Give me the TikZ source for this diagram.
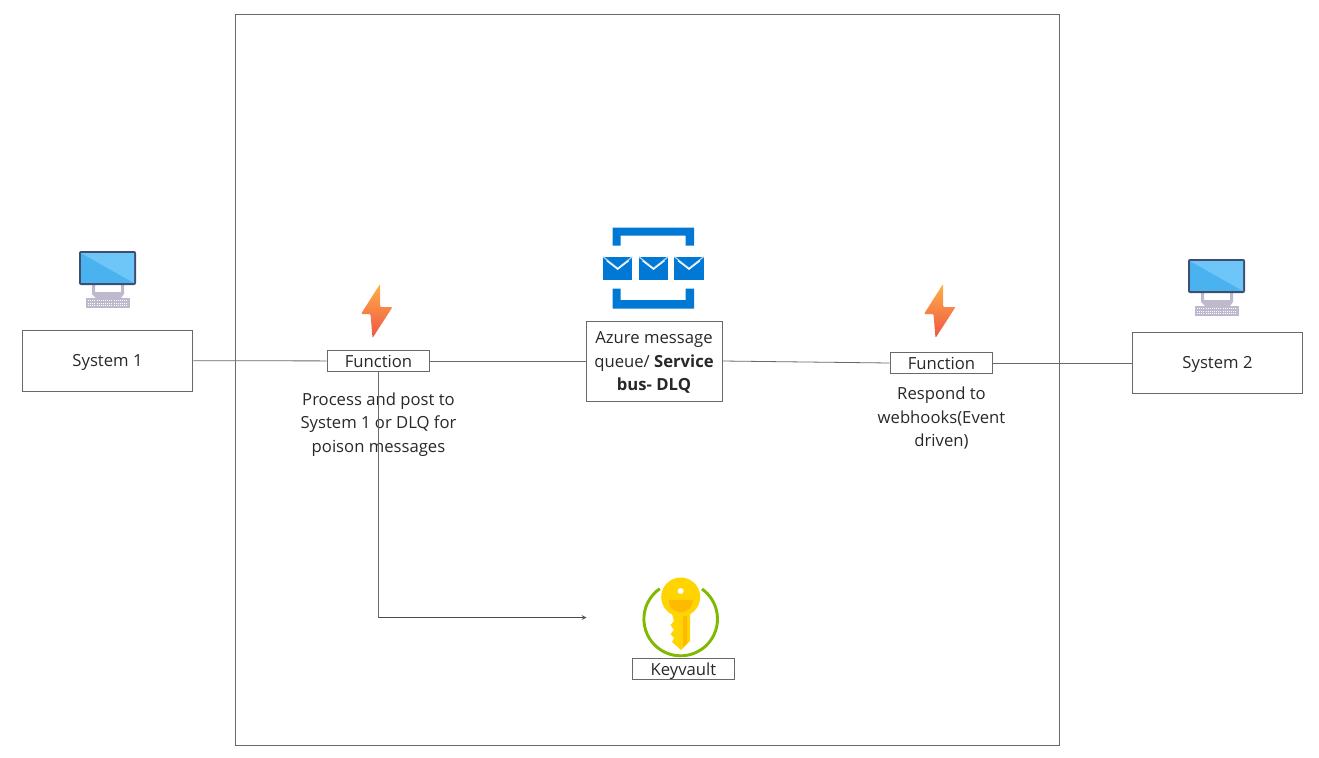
\documentclass[tikz,border=0pt]{standalone}
\usepackage{fontspec}
\setmainfont{Open Sans}
\usepackage{xcolor}
\definecolor{lineGray}{RGB}{105, 105, 105}
\definecolor{textDark}{RGB}{40, 40, 40}
\definecolor{azureBlue}{RGB}{0, 120, 212}
\definecolor{flapBlue}{RGB}{170, 215, 245}
\definecolor{screenDark}{RGB}{62, 78, 112}
\definecolor{screenBlue}{RGB}{75, 178, 240}
\definecolor{screenLight}{RGB}{110, 198, 248}
\definecolor{standGray}{RGB}{190, 185, 205}
\definecolor{boltTop}{RGB}{255, 175, 70}
\definecolor{boltBottom}{RGB}{238, 85, 70}
\definecolor{ringGreen}{RGB}{127, 186, 0}
\definecolor{keyYellow}{RGB}{255, 212, 0}
\definecolor{keyOrange}{RGB}{255, 185, 0}

\tikzset{
  computer/.pic={
    \fill[standGray] (-16,5) -- (-16,14) -- (-12,18) -- (13,18) -- (16,14) -- (16,5) -- (13,5) -- (13,12) -- (-13,12) -- (-13,5) -- cycle;
    \fill[standGray] (-22,18) rectangle (22,28);
    \foreach \ky in {20.5,23,25.5}
      \draw[white, densely dotted, line width=0.6pt] (-20,\ky) -- (20,\ky);
    \fill[screenDark, rounded corners=1.5pt] (-29,-29) rectangle (28,5);
    \fill[screenBlue] (-27,-27) rectangle (26,3);
    \fill[screenLight] (-27,-27) -- (26,-27) -- (26,3) -- cycle;
  },
  bolt/.pic={
    \shade[top color=boltTop, bottom color=boltBottom, rounded corners=0.8pt]
      (3,-27) -- (-16,3) -- (-6.5,3) -- (-4.5,27) -- (15.5,-4) -- (3,-4) -- cycle;
  },
  envelope/.pic={
    \fill[azureBlue] (-14.7,-11.5) rectangle (14.7,11.5);
    \draw[flapBlue, line width=0.9pt] (-14.7,-11.5) -- (0,0) -- (14.7,-11.5);
    \draw[white, line width=0.9pt] (-11,-7.5) -- (0,1) -- (11,-7.5);
  }
}

\begin{document}
\begin{tikzpicture}[x=0.75pt, y=-0.75pt]
  \tikzstyle{frame} = [draw=lineGray, line width=0.75pt]
  \tikzstyle{box} = [draw=lineGray, line width=0.75pt, fill=white, text=textDark, font=\fontsize{12.5}{17.6}\selectfont, align=center, inner sep=0pt, text height=10.8pt, text depth=1.4pt]
  \tikzstyle{label} = [text=textDark, font=\fontsize{12.5}{17.6}\selectfont, align=center, inner sep=0pt]
  \tikzstyle{link} = [draw=lineGray, line width=0.6pt]
  \tikzstyle{arrow} = [->, >=stealth, draw=black!70, line width=0.6pt]

  \useasboundingbox (0,0) rectangle (1319,757);

  % Outer frame
  \draw[frame] (235,14) rectangle (1059,745);

  % Systems
  \node[box, minimum width=128pt, minimum height=45.75pt] (system1) at (107.5,360.5) {System 1};
  \node[box, minimum width=128pt, minimum height=45.75pt] (system2) at (1217.5,362.5) {System 2};
  \pic at (108,280) {computer};
  \pic at (1217,288) {computer};

  % Functions
  \node[box, minimum width=77pt, minimum height=16pt] (function1) at (378.5,361) {Function};
  \node[box, minimum width=77pt, minimum height=16pt] (function2) at (941.5,363) {Function};
  \pic at (377,311) {bolt};
  \pic at (940,311) {bolt};
  \node[label] (process) at (378.5,424.5) {Process and post to\\System 1 or DLQ for\\poison messages};
  \node[label] (respond) at (941.5,418) {Respond to\\webhooks(Event\\driven)};

  % Queue
  \node[box, minimum width=102pt, minimum height=60pt, text height=44.6pt, text depth=0.2pt] (queue) at (654,361) {Azure message\\queue/ \textbf{Service}\\\textbf{bus- DLQ}};
  \fill[azureBlue] (612.5,245.5) -- (612.5,227.5) -- (694,227.5) -- (694,245.5) -- (685.5,245.5) -- (685.5,235.5) -- (620.5,235.5) -- (620.5,245.5) -- cycle;
  \fill[azureBlue] (612.5,288.5) -- (612.5,308.5) -- (694,308.5) -- (694,288.5) -- (685.5,288.5) -- (685.5,300) -- (620.5,300) -- (620.5,288.5) -- cycle;
  \pic at (617.7,268.2) {envelope};
  \pic at (653.5,268.2) {envelope};
  \pic at (689,268.2) {envelope};

  % Keyvault
  \node[box, minimum width=77pt, minimum height=16pt] (keyvault) at (683.5,669) {Keyvault};
  \draw[ringGreen, line width=2.2pt] (702,589) arc[start angle=-54.6, end angle=235.4, radius=36.8];
  \fill[keyYellow] (671.5,612) -- (690,612) -- (690,641) -- (681,650) -- (672,642) -- (674,638) -- (670.5,634) -- (674,630) -- (670.5,625) -- (674,621) -- cycle;
  \fill[keyOrange] (683,612) -- (687,612) -- (687,643) -- (683,647) -- cycle;
  \fill[keyYellow] (680.7,597) circle[radius=19.5];
  \fill[keyOrange] (668.5,600) -- (693,600) arc[start angle=0, end angle=180, radius=12.25] -- cycle;
  \fill[white] (680.7,591) circle[radius=3];

  % Connectors
  \coordinate (elbow) at (378.5,617.5);
  \coordinate (vaultend) at (586.5,617.5);
  \draw[link] (system1) -- (function1);
  \draw[link] (function1) -- (queue);
  \draw[link] (queue.east) -- (function2.west);
  \draw[link] (function2) -- (system2.west |- function2);
  \draw[link] (function1.south) -- (elbow);
  \draw[arrow] (elbow) -- (vaultend);
\end{tikzpicture}
\end{document}
